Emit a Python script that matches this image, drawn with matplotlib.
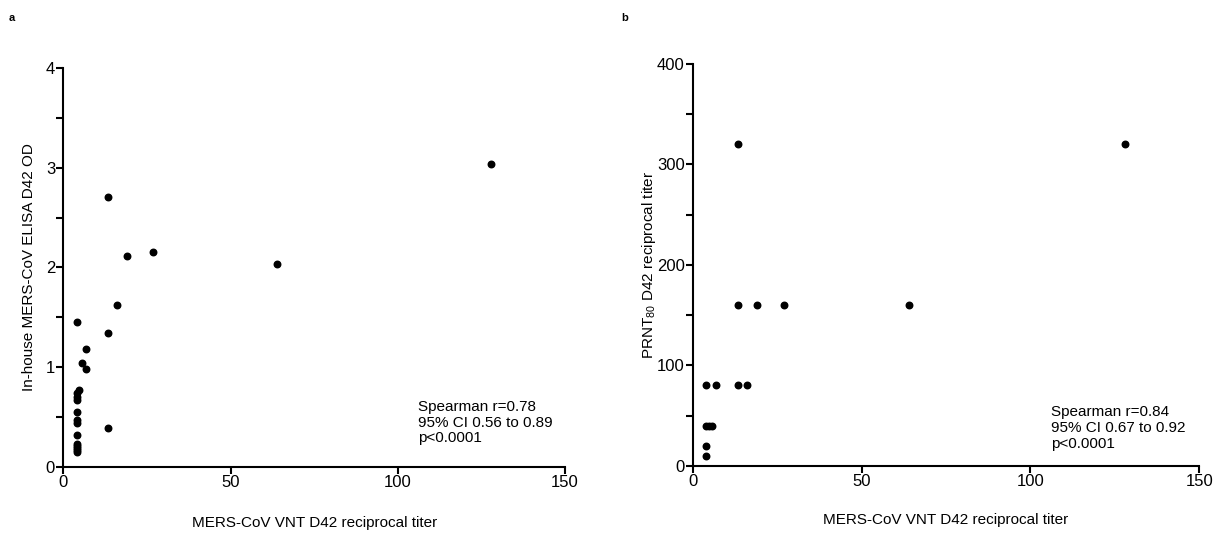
import matplotlib
matplotlib.use("Agg")
import matplotlib.pyplot as plt
from matplotlib.ticker import MultipleLocator

plt.rcParams["font.family"] = ["Liberation Sans", "DejaVu Sans"]
plt.rcParams["mathtext.fontset"] = "custom"
plt.rcParams["mathtext.rm"] = "Liberation Sans"

# ── data ──────────────────────────────────────────────
# panel a: VNT titer vs in-house ELISA OD
vnt_a = [13.45, 128, 19.03, 26.91, 64, 16, 4, 13.45, 6.73, 5.66, 6.73, 4.76,
         4, 4, 4, 4, 4, 4, 4, 13.45, 4, 4, 4, 4, 4]
elisa_a = [2.71, 3.04, 2.12, 2.16, 2.03, 1.62, 1.45, 1.34, 1.18, 1.04, 0.98, 0.77,
           0.74, 0.70, 0.67, 0.55, 0.47, 0.44, 0.32, 0.39, 0.23, 0.21, 0.19, 0.17, 0.15]

# panel b: VNT titer vs PRNT80 titer
vnt_b = [13.45, 128, 13.45, 19.03, 26.91, 64, 4, 6.73, 13.45, 16,
         4, 4.76, 5.66, 4, 4]
prnt_b = [320, 320, 160, 160, 160, 160, 80, 80, 80, 80,
          40, 40, 40, 20, 10]

stats_a = "Spearman r=0.78\n95% CI 0.56 to 0.89\np<0.0001"
stats_b = "Spearman r=0.84\n95% CI 0.67 to 0.92\np<0.0001"
xlabel = "MERS-CoV VNT D42 reciprocal titer"

fig = plt.figure(figsize=(12.2, 5.36), dpi=100)
ax_a = fig.add_axes([0.052, 0.129, 0.411, 0.744])
ax_b = fig.add_axes([0.568, 0.131, 0.415, 0.750])


def style(ax, ymax, ymajor):
    ax.set_xlim(0, 150)
    ax.set_ylim(0, ymax)
    ax.xaxis.set_major_locator(MultipleLocator(50))
    ax.yaxis.set_major_locator(MultipleLocator(ymajor))
    ax.yaxis.set_minor_locator(MultipleLocator(ymajor / 2))
    for s in ["top", "right"]:
        ax.spines[s].set_visible(False)
    for s in ["left", "bottom"]:
        ax.spines[s].set_linewidth(1.5)
    ax.tick_params(axis="both", which="major", direction="out", width=1.5,
                   length=5, labelsize=12, pad=1)
    ax.tick_params(axis="y", which="minor", direction="out", width=1.5, length=5)


ax_a.scatter(vnt_a, elisa_a, s=22, color="black", zorder=3, clip_on=False)
style(ax_a, 4, 1)
ax_a.set_xlabel(xlabel, fontsize=11)
ax_a.xaxis.set_label_coords(0.5, -0.124)
ax_a.set_ylabel("In-house MERS-CoV ELISA D42 OD", fontsize=11)
ax_a.yaxis.set_label_coords(-0.055, 0.5)
ax_a.text(0.707, 0.168, stats_a, transform=ax_a.transAxes, fontsize=11,
          va="top", ha="left", linespacing=1.15)

ax_b.scatter(vnt_b, prnt_b, s=22, color="black", zorder=3, clip_on=False)
style(ax_b, 400, 100)
ax_b.set_xlabel(xlabel, fontsize=11)
ax_b.xaxis.set_label_coords(0.5, -0.118)
ax_b.set_ylabel(r"PRNT$_{\mathrm{80}}$ D42 reciprocal titer", fontsize=11)
ax_b.yaxis.set_label_coords(-0.07, 0.5)
ax_b.text(0.708, 0.15, stats_b, transform=ax_b.transAxes, fontsize=11,
          va="top", ha="left", linespacing=1.15)

fig.text(12 / 1220, 1 - 18 / 536, "a", fontsize=8, fontweight="bold",
         ha="center", va="center")
fig.text(625 / 1220, 1 - 18 / 536, "b", fontsize=8, fontweight="bold",
         ha="center", va="center")

fig.savefig("out.png", dpi=100)
